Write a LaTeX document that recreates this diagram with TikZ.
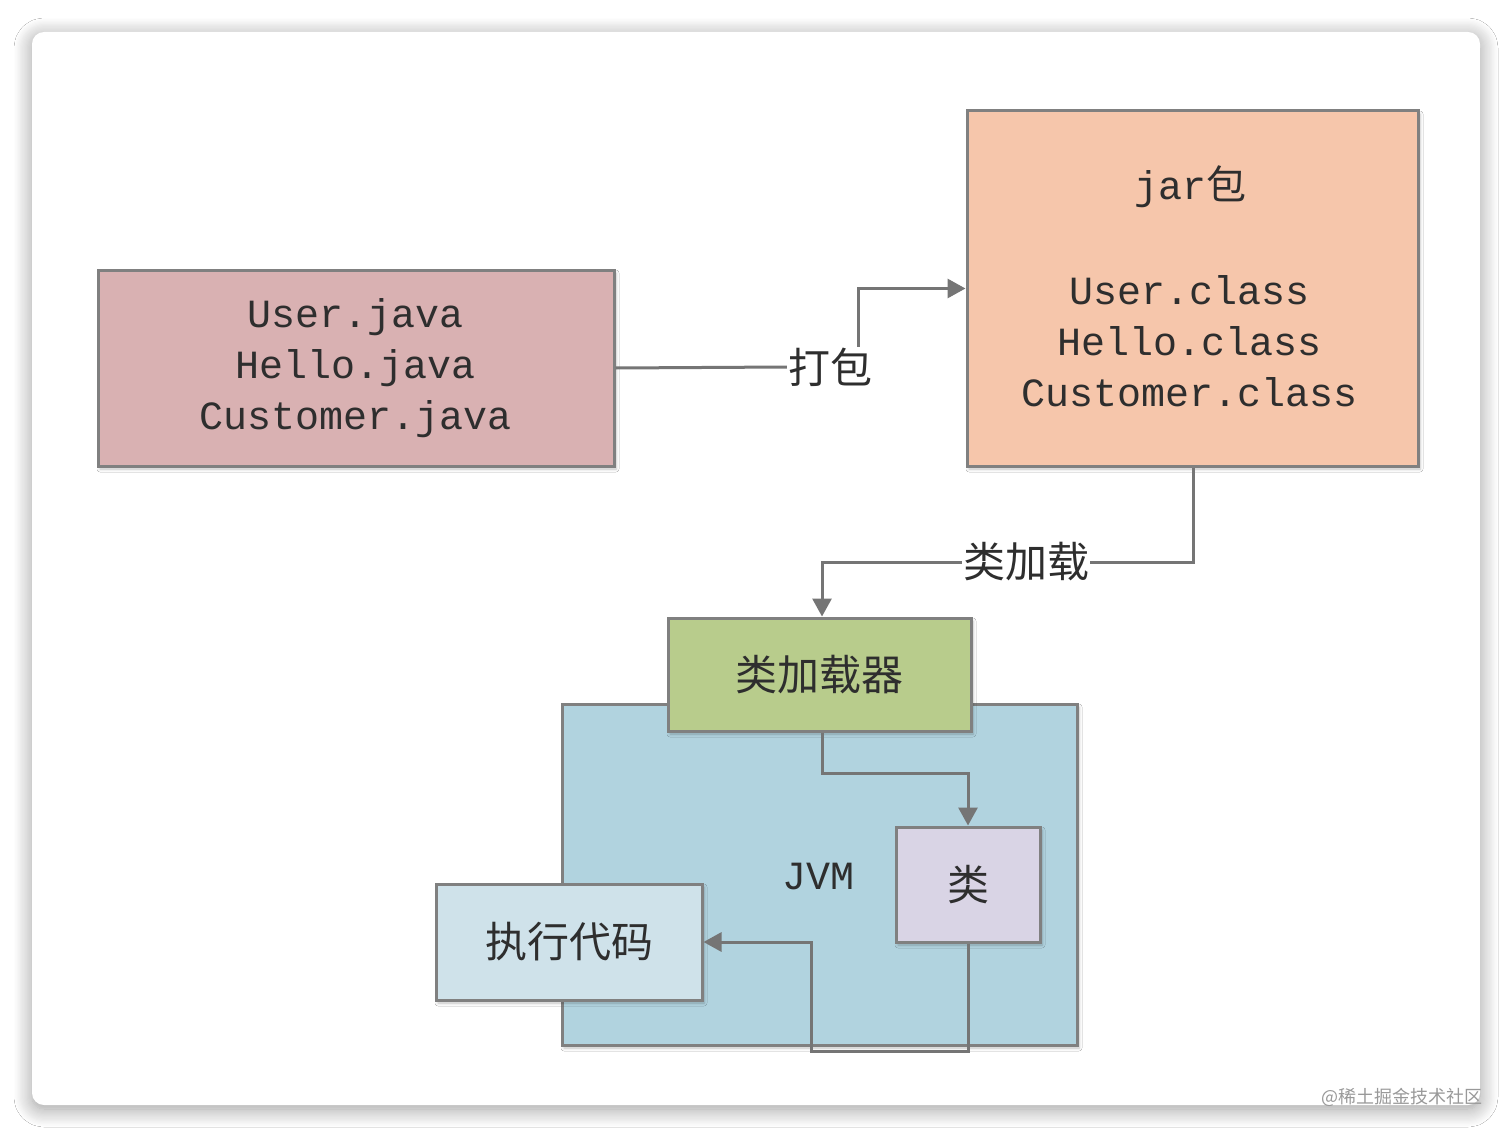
\documentclass[tikz,border=0pt]{standalone}
\usepackage{fontspec}
\setmainfont{Liberation Mono}
\newfontfamily\cjk{Noto Sans CJK SC}
\usetikzlibrary{arrows.meta,shadows.blur}
\definecolor{linegray}{HTML}{757575}
\definecolor{bordergray}{HTML}{808080}
\definecolor{srcfill}{HTML}{D9B1B2}
\definecolor{jarfill}{HTML}{F6C6AB}
\definecolor{loaderfill}{HTML}{B8CC8C}
\definecolor{jvmfill}{HTML}{B1D3DF}
\definecolor{clsfill}{HTML}{D9D4E5}
\definecolor{execfill}{HTML}{CFE2EA}
\definecolor{txt}{HTML}{2E2E2E}
\tikzset{
  box/.style={draw=bordergray, line width=3pt, inner sep=0pt, text=txt,
    blur shadow={shadow blur steps=5, shadow xshift=2pt, shadow yshift=-3pt, shadow blur radius=3pt, shadow opacity=25}},
  lbl/.style={inner sep=1pt, text=txt, font=\cjk\fontsize{42}{50}\selectfont},
  conn/.style={draw=linegray, line width=3pt},
  arr/.style={conn, -{Triangle[length=18pt,width=19pt]}},
  mono/.style={font=\fontsize{40}{51}\selectfont, align=center},
  cjkbig/.style={font=\cjk\fontsize{42}{50}\selectfont}
}
\begin{document}
\begin{tikzpicture}[x=1pt,y=-1pt]
\useasboundingbox (0,0) rectangle (1512,1137);
\fill[white] (0,0) rectangle (1512,1137);
\path[fill=white, rounded corners=12pt,
  blur shadow={shadow blur steps=16, shadow xshift=0pt, shadow yshift=-4pt, shadow blur radius=18pt, shadow opacity=40}]
  (32,32) rectangle (1480,1105);

% boxes
\node[box, fill=srcfill, minimum width=516pt, minimum height=196pt, mono] (src) at (356,368)
  {User.java\\Hello.java\\Customer.java};
\node[box, fill=jarfill, minimum width=451pt, minimum height=355pt] (jar) at (1192.5,288.5) {};
\node[text=txt, font=\fontsize{40}{51}\selectfont] (jart) at (1190,187) {jar{\cjk 包}};
\node[text=txt, mono] (jarc) at (1190,341) {User.class\\Hello.class\\Customer.class};

\node[box, fill=jvmfill, minimum width=515pt, minimum height=341pt] (jvm) at (819.5,874.5) {};
\node[text=txt, font=\fontsize{40}{48}\selectfont] (jvmt) at (818,877) {JVM};
\node[box, fill=loaderfill, minimum width=303pt, minimum height=113pt, cjkbig] (loader) at (819.5,674.5) {类加载器};
\node[box, fill=clsfill, minimum width=144pt, minimum height=115pt, cjkbig] (cls) at (968,884.5) {类};
\node[box, fill=execfill, minimum width=266pt, minimum height=116pt, cjkbig] (exec) at (569,942) {执行代码};

% labels
\node[lbl] (pack) at (830,367) {打包};
\node[lbl] (load) at (1026,562) {类加载};

% connectors
\draw[conn] (src.east) -- (pack.west);
\draw[arr] ([xshift=28pt]pack.north) |- (jar.west);
\draw[conn] (jar.south -| 1193,0) |- (load.east);
\draw[arr] (load.west) -| ([xshift=2.5pt]loader.north);
\draw[arr] ([xshift=2.5pt]loader.south) -- ++(0,41) -| (cls.north);
\coordinate (turn) at (811,942);
\draw[arr] (cls.south) -- ++(0,108) -| (turn) -- (exec.east);

% watermark
\node[text=gray!80, font=\cjk\fontsize{18}{20}\selectfont, inner sep=0pt] (wm) at (1402,1097) {@稀土掘金技术社区};
\end{tikzpicture}
\end{document}
